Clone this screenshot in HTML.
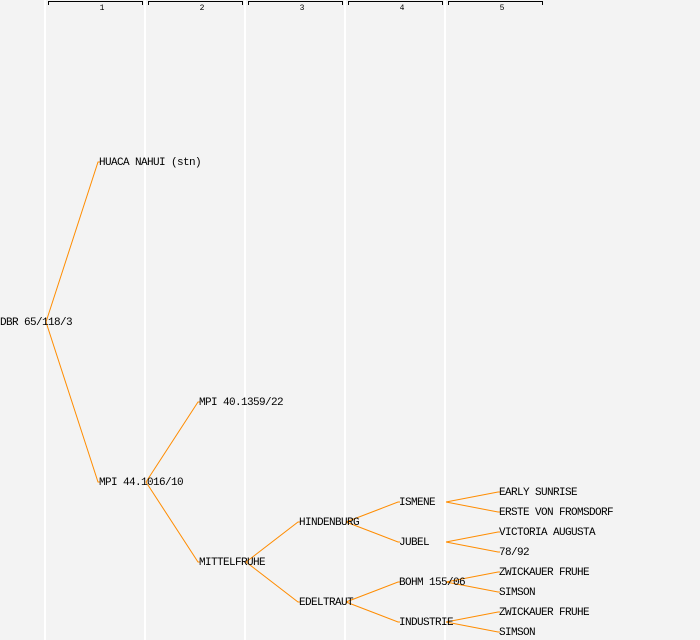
<!DOCTYPE html>
<html><head><meta charset="utf-8"><style>
html,body{margin:0;padding:0;background:#f3f3f3;}
svg{display:block}
text{font-family:"Liberation Mono","DejaVu Sans Mono",monospace;font-size:11px;letter-spacing:-0.6px;fill:#000;}
.t{font-size:8px;letter-spacing:0}
</style></head><body>
<svg width="700" height="640" viewBox="0 0 700 640" xmlns="http://www.w3.org/2000/svg">
<rect width="700" height="640" fill="#f3f3f3"/>
<g stroke="#ffffff" stroke-width="2">
<line x1="45" y1="0" x2="45" y2="640"/>
<line x1="145" y1="0" x2="145" y2="640"/>
<line x1="245" y1="0" x2="245" y2="640"/>
<line x1="345" y1="0" x2="345" y2="640"/>
<line x1="445" y1="0" x2="445" y2="640"/>
</g>
<g stroke="#000" stroke-width="1" fill="none">
<path d="M48.5 5V1.5H142.5V5"/>
<path d="M148.5 5V1.5H242.5V5"/>
<path d="M248.5 5V1.5H342.5V5"/>
<path d="M348.5 5V1.5H442.5V5"/>
<path d="M448.5 5V1.5H542.5V5"/>
</g>
<g class="t" text-anchor="middle">
<text class="t" x="102" y="10">1</text>
<text class="t" x="202" y="10">2</text>
<text class="t" x="302" y="10">3</text>
<text class="t" x="402" y="10">4</text>
<text class="t" x="502" y="10">5</text>
</g>
<g stroke="#ff8c00" stroke-width="1" fill="none">
<path d="M46 322L98 162H100"/>
<path d="M46 322L98 482H100"/>
<path d="M146 482L198 402H200"/>
<path d="M146 482L198 562H200"/>
<path d="M246 562L298 522H300"/>
<path d="M246 562L298 602H300"/>
<path d="M346 522L398 502H400"/>
<path d="M346 522L398 542H400"/>
<path d="M346 602L398 582H400"/>
<path d="M346 602L398 622H400"/>
<path d="M446 502L498 492H500"/>
<path d="M446 502L498 512H500"/>
<path d="M446 542L498 532H500"/>
<path d="M446 542L498 552H500"/>
<path d="M446 582L498 572H500"/>
<path d="M446 582L498 592H500"/>
<path d="M446 622L498 612H500"/>
<path d="M446 622L498 632H500"/>
</g>
<g>
<text x="0" y="325">DBR 65/118/3</text>
<text x="99" y="165">HUACA NAHUI (stn)</text>
<text x="99" y="485">MPI 44.1016/10</text>
<text x="199" y="405">MPI 40.1359/22</text>
<text x="199" y="565">MITTELFRUHE</text>
<text x="299" y="525">HINDENBURG</text>
<text x="299" y="605">EDELTRAUT</text>
<text x="399" y="505">ISMENE</text>
<text x="399" y="545">JUBEL</text>
<text x="399" y="585">BOHM 155/06</text>
<text x="399" y="625">INDUSTRIE</text>
<text x="499" y="495">EARLY SUNRISE</text>
<text x="499" y="515">ERSTE VON FROMSDORF</text>
<text x="499" y="535">VICTORIA AUGUSTA</text>
<text x="499" y="555">78/92</text>
<text x="499" y="575">ZWICKAUER FRUHE</text>
<text x="499" y="595">SIMSON</text>
<text x="499" y="615">ZWICKAUER FRUHE</text>
<text x="499" y="635">SIMSON</text>
</g>
</svg>
</body></html>
